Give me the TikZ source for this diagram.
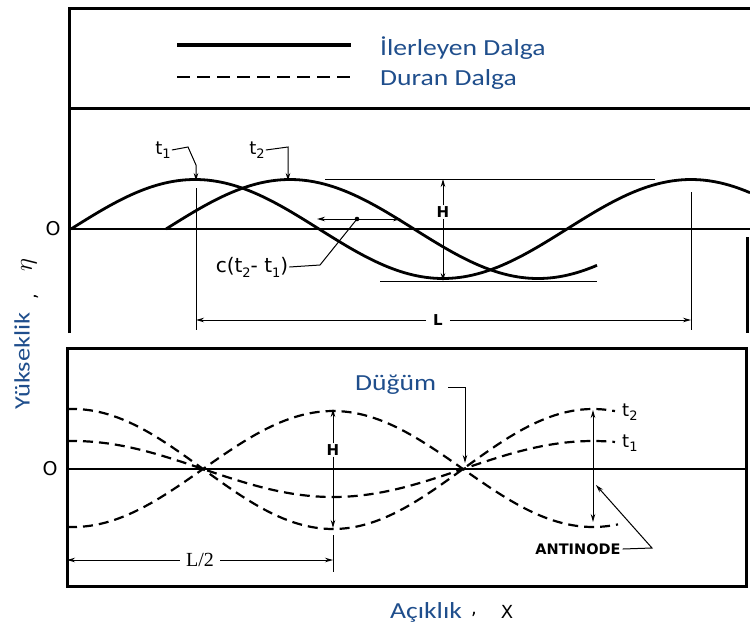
\documentclass[tikz,border=0pt]{standalone}
\usepackage{fontspec}
\setmainfont{DejaVu Sans}
\newfontfamily\calfont[FakeStretch=1.2]{Carlito}
\newfontfamily\serfont{Liberation Serif}
\usetikzlibrary{arrows.meta}
\definecolor{tblue}{HTML}{1F4E8C}
\newcommand\sbs[1]{\raisebox{-0.45ex}{\fontsize{13}{13}\selectfont #1}}
\begin{document}
\begin{tikzpicture}[x=1pt,y=-1pt,
  frame/.style={line width=3pt},
  axis/.style={line width=1.3pt},
  wave/.style={line width=2.8pt},
  swave/.style={line width=2.2pt, dash pattern=on 10pt off 6pt},
  thinl/.style={line width=1pt},
  lead/.style={line width=1pt, -{Stealth[length=8pt,width=4.5pt]}},
  dim/.style={line width=1pt, {Stealth[length=8pt,width=4.5pt]}-{Stealth[length=8pt,width=4.5pt]}},
  lbl/.style={font=\fontsize{18}{18}\selectfont, inner sep=1pt},
  blbl/.style={font=\bfseries\fontsize{15}{15}\selectfont, inner sep=1pt},
  olbl/.style={font=\fontsize{19}{19}\selectfont, inner sep=1pt},
  trk/.style={font=\calfont\fontsize{23}{23}\selectfont, text=tblue, inner sep=0pt}
]
\useasboundingbox (0,0) rectangle (750,630);

% ---------- frames ----------
\draw[frame] (69,333) -- (69,8) -- (750,8);
\draw[frame] (69,108) -- (750,108);
\draw[frame] (747,237) -- (747,333);
\draw[frame] (67,348) rectangle (746,586);

% ---------- legend ----------
\coordinate (ls1) at (177,45);  \coordinate (ls2) at (351,45);
\coordinate (ld1) at (177,77);  \coordinate (ld2) at (351,77);
\draw[line width=3.5pt] (ls1) -- (ls2);
\draw[line width=2pt, dash pattern=on 13pt off 7pt] (ld1) -- (ld2);
\node[trk, anchor=west] (leg1) at (380,48) {İlerleyen Dalga};
\node[trk, anchor=west] (leg2) at (380,79) {Duran Dalga};

% ---------- top panel ----------
\coordinate (z1a) at (69,229); \coordinate (z1b) at (750,229);
\draw[axis] (z1a) -- (z1b);
\node[olbl] (o1) at (53,229) {O};

\draw[wave] plot[domain=71:750, samples=160] (\x, {229-49.5*sin((\x-71)/496*360)});
\draw[wave] plot[domain=166:597, samples=120] (\x, {229-49.5*sin((\x-166)/496*360)});

% crest / trough reference lines
\coordinate (cr1) at (325,179); \coordinate (cr2) at (655,179);
\coordinate (tr1) at (380,281); \coordinate (tr2) at (597,281);
\draw[thinl] (cr1) -- (cr2);
\draw[thinl] (tr1) -- (tr2);
\node[blbl] (H1) at (443,212) {H};
\draw[lead] (H1.north) -- (443,179);
\draw[lead] (H1.south) -- (443,281);

% wave length
\coordinate (v1a) at (196,188); \coordinate (v1b) at (196,330);
\coordinate (v2a) at (691,192); \coordinate (v2b) at (691,330);
\draw[thinl] (v1a) -- (v1b);
\draw[thinl] (v2a) -- (v2b);
\node[blbl, inner sep=7pt] (Lt) at (438,320) {L};
\draw[lead] (Lt.west) -- (196,320);
\draw[lead] (Lt.east) -- (691,320);

% t1 / t2 labels
\node[lbl] (t1l) at (163,150) {t\sbs{1}};
\draw[lead] (t1l.east) -- (188,147) -- (196,165) -- (196,181);
\node[lbl] (t2l) at (257,150) {t\sbs{2}};
\draw[lead] (t2l.east) -- (288,147) -- (288,181);

% c(t2-t1)
\coordinate (cd) at (357,219);
\draw[lead] (cd) -- (317,219);
\draw[lead] (cd) -- (401,219);
\fill (cd) circle (2.3pt);
\node[lbl, font=\fontsize{20}{20}\selectfont] (cl) at (252,267) {c(t\sbs{2}- t\sbs{1})};
\draw[thinl] (cl.east) -- (320,265) -- (cd);

% ---------- bottom panel ----------
\coordinate (z2a) at (67,469); \coordinate (z2b) at (746,469);
\draw[axis] (z2a) -- (z2b);
\node[olbl] (o2) at (50,469) {O};

\draw[swave] plot[domain=67:615, samples=120] (\x, {469-60*cos((\x-73)/520*360)});
\draw[swave] plot[domain=67:618, samples=120] (\x, {469+58*cos((\x-73)/520*360)});
\draw[swave] plot[domain=67:615, samples=120] (\x, {469-28*cos((\x-73)/520*360)});

% H at first antinode
\node[blbl] (H2) at (333,450) {H};
\draw[lead] (H2.north) -- (333,409);
\draw[lead] (H2.south) -- (333,528);

% L/2
\coordinate (lt1) at (333,535); \coordinate (lt2) at (333,572);
\draw[thinl] (lt1) -- (lt2);
\node[font=\serfont\fontsize{20}{20}\selectfont, inner sep=6pt] (L2) at (200,560) {L/2};
\draw[lead] (L2.west) -- (67,560);
\draw[lead] (L2.east) -- (333,560);

% antinode arrow on the right
\coordinate (an1) at (593,410); \coordinate (an2) at (593,522);
\draw[dim] (an1) -- (an2);
\node[lbl, anchor=west] (t2r) at (621,412) {t\sbs{2}};
\node[lbl, anchor=west] (t1r) at (621,443) {t\sbs{1}};

\node[font=\bfseries\fontsize{14.5}{14.5}\selectfont, inner sep=2pt] (anl) at (578,549) {ANTINODE};
\draw[lead] (anl.east) -- (652,548) -- (596,485);

% node label
\node[trk, anchor=west] (dg) at (355,385) {Düğüm};
\draw[lead] (dg.east) ++(12,2) -- (465,387) -- (465,463);

% ---------- axis titles ----------
\node[trk, rotate=90, font=\calfont\fontsize{22}{22}\selectfont] (yk) at (22,361) {Yükseklik};
\node[rotate=90, font=\fontsize{18}{18}\selectfont] (yc) at (36,297) {,};
\node[rotate=90, font=\fontsize{27}{27}\selectfont] (ye) at (29,265) {$\eta$};

\node[trk, anchor=west] (ax) at (390,612) {Açıklık};
\node[font=\fontsize{18}{18}\selectfont] (axc) at (474,614) {,};
\node[font=\fontsize{18}{18}\selectfont] (axx) at (507,612) {X};
\end{tikzpicture}
\end{document}
